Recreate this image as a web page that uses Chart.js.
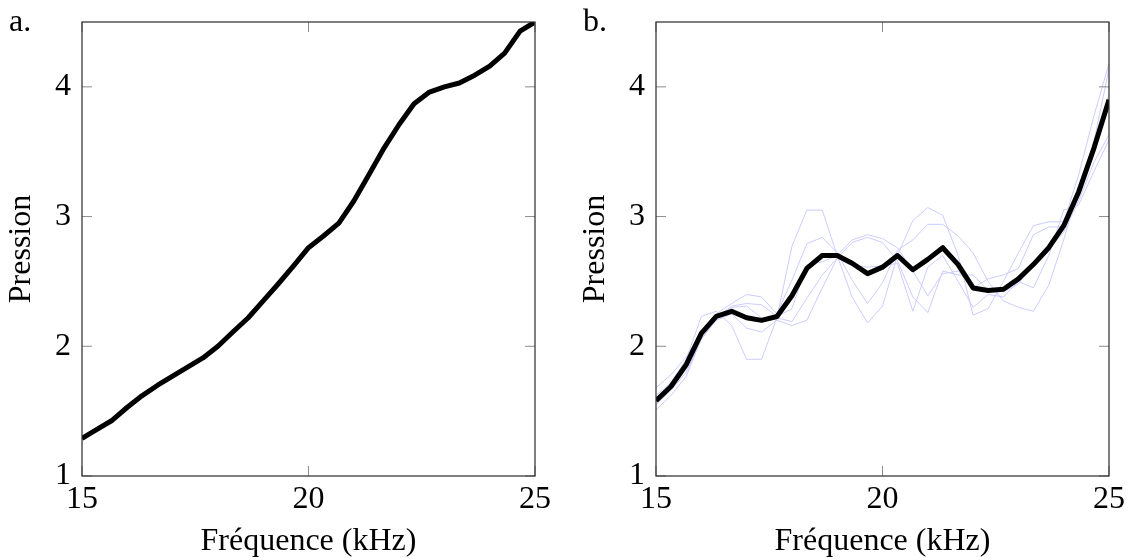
<!DOCTYPE html>
<html lang="fr">
<head>
<meta charset="utf-8">
<title>Pression en fonction de la fréquence</title>
<script src="https://cdn.jsdelivr.net/npm/chart.js@4.4.1/dist/chart.umd.min.js"></script>
<style>
    html, body { margin: 0; padding: 0; background: #fff; }
    #page { position: relative; width: 1128px; height: 560px; overflow: hidden; }
    #page canvas { position: absolute; top: 0; }
    #graphA { left: 0; }
    #graphB { left: 574px; }
</style>
</head>
<body>
<div id="page">
    <canvas id="graphA" width="554" height="560"></canvas>
    <canvas id="graphB" width="554" height="560"></canvas>
</div>
<script>
// fréquences (kHz), un point tous les 1/3 kHz
const freq = [15, 15.33, 15.67, 16, 16.33, 16.67, 17, 17.33, 17.67, 18, 18.33, 18.67, 19, 19.33, 19.67,
    20, 20.33, 20.67, 21, 21.33, 21.67, 22, 22.33, 22.67, 23, 23.33, 23.67, 24, 24.33, 24.67, 25];

// a. pression mesurée
const pressionA = [1.29, 1.36, 1.43, 1.53, 1.62, 1.70, 1.77, 1.84, 1.91, 2.00, 2.11, 2.22, 2.35, 2.48, 2.62,
    2.76, 2.85, 2.95, 3.12, 3.32, 3.53, 3.71, 3.87, 3.96, 4.00, 4.03, 4.09, 4.16, 4.26, 4.43, 4.50];

// b. moyenne des essais
const pressionMoy = [1.58, 1.69, 1.86, 2.10, 2.23, 2.27, 2.22, 2.20, 2.23, 2.39, 2.60, 2.70, 2.70, 2.64, 2.56,
    2.61, 2.70, 2.59, 2.67, 2.76, 2.63, 2.45, 2.43, 2.44, 2.52, 2.63, 2.76, 2.93, 3.19, 3.53, 3.90];

// b. essais individuels
const essai1 = [1.62, 1.72, 1.90, 2.23, 2.27, 2.16, 1.90, 1.90, 2.22, 2.77, 3.05, 3.05, 2.70, 2.38, 2.18,
    2.31, 2.70, 2.97, 3.07, 3.01, 2.70, 2.24, 2.29, 2.50, 2.72, 2.93, 2.96, 2.96, 3.32, 3.78, 4.18];
const essai2 = [1.68, 1.78, 1.92, 2.10, 2.25, 2.33, 2.40, 2.38, 2.25, 2.51, 2.79, 2.84, 2.72, 2.51, 2.33,
    2.49, 2.74, 2.82, 2.94, 2.94, 2.85, 2.72, 2.50, 2.35, 2.30, 2.27, 2.47, 2.82, 3.22, 3.58, 4.14];
const essai3 = [1.58, 1.69, 1.86, 2.08, 2.22, 2.31, 2.33, 2.32, 2.23, 2.29, 2.63, 2.65, 2.70, 2.82, 2.86,
    2.83, 2.76, 2.58, 2.39, 2.56, 2.58, 2.45, 2.52, 2.55, 2.60, 2.86, 2.92, 2.92, 3.20, 3.52, 3.95];
const essai4 = [1.55, 1.66, 1.80, 2.05, 2.21, 2.30, 2.31, 2.22, 2.22, 2.19, 2.37, 2.55, 2.68, 2.80, 2.84,
    2.80, 2.66, 2.38, 2.26, 2.58, 2.55, 2.55, 2.43, 2.42, 2.48, 2.65, 2.75, 2.88, 3.12, 3.42, 3.63];
const essai5 = [1.51, 1.62, 1.77, 2.06, 2.20, 2.25, 2.14, 2.11, 2.20, 2.16, 2.20, 2.45, 2.68, 2.62, 2.61,
    2.62, 2.64, 2.27, 2.61, 2.70, 2.50, 2.30, 2.40, 2.38, 2.50, 2.45, 2.70, 3.05, 3.09, 3.35, 3.59];

const xTicks = [15, 20, 25];
const yTicks = [1, 2, 3, 4];

Chart.defaults.font.family = "'Liberation Serif', 'DejaVu Serif', serif";
Chart.defaults.font.size = 32;
Chart.defaults.color = '#000';

// cadre complet, graduations vers l'intérieur, et lettre du panneau
const cadre = {
    id: 'cadre',
    afterDatasetsDraw(chart, args, opts) {
        const {ctx, chartArea: a, scales: {x, y}} = chart;
        const len = 10;
        ctx.save();
        ctx.strokeStyle = '#8c8c8c';
        ctx.lineWidth = 1;
        ctx.beginPath();
        xTicks.forEach(v => {
            const px = x.getPixelForValue(v);
            ctx.moveTo(px, a.bottom); ctx.lineTo(px, a.bottom - len);
            ctx.moveTo(px, a.top); ctx.lineTo(px, a.top + len);
        });
        yTicks.forEach(v => {
            const py = y.getPixelForValue(v);
            ctx.moveTo(a.left, py); ctx.lineTo(a.left + len, py);
            ctx.moveTo(a.right, py); ctx.lineTo(a.right - len, py);
        });
        ctx.stroke();
        ctx.strokeStyle = '#2a2a2a';
        ctx.lineWidth = 1.2;
        ctx.strokeRect(a.left, a.top, a.right - a.left, a.bottom - a.top);
        ctx.restore();
    },
    afterDraw(chart, args, opts) {
        const ctx = chart.ctx;
        ctx.save();
        ctx.font = "32px 'Liberation Serif', serif";
        ctx.fillStyle = '#000';
        ctx.textBaseline = 'alphabetic';
        ctx.fillText(opts.lettre, 9, 31);
        ctx.restore();
    }
};

function makeOptions(lettre) {
    return {
        responsive: false,
        animation: false,
        devicePixelRatio: 1,
        layout: { padding: { top: 22, right: 19, left: 0, bottom: 0 } },
        plugins: {
            legend: { display: false },
            tooltip: { enabled: false },
            cadre: { lettre: lettre }
        },
        elements: { point: { radius: 0 } },
        scales: {
            x: {
                type: 'linear',
                min: 15,
                max: 25,
                afterBuildTicks: s => { s.ticks = xTicks.map(v => ({ value: v })); },
                afterFit: s => {
                    s.height = 84;
                    s.paddingLeft = 0;
                    s.paddingRight = 0;
                },
                grid: { display: false, drawTicks: false },
                border: { display: false },
                ticks: { padding: 4, maxRotation: 0 },
                title: {
                    display: true,
                    text: 'Fréquence (kHz)',
                    font: { size: 32, lineHeight: 1.0 },
                    padding: { top: 0, bottom: 2 }
                }
            },
            y: {
                type: 'linear',
                min: 1,
                max: 4.5,
                afterBuildTicks: s => { s.ticks = yTicks.map(v => ({ value: v })); },
                afterFit: s => {
                    s.width = 82;
                    s.paddingTop = 0;
                    s.paddingBottom = 0;
                },
                grid: { display: false, drawTicks: false },
                border: { display: false },
                ticks: { padding: 11 },
                title: {
                    display: true,
                    text: 'Pression',
                    font: { size: 32, lineHeight: 1.0 },
                    padding: { top: 6, bottom: 0 }
                }
            }
        }
    };
}

function points(values) {
    return values.map((v, i) => ({ x: freq[i], y: v }));
}

function courbeNoire(values) {
    return {
        data: points(values),
        borderColor: '#000',
        borderWidth: 5,
        borderJoinStyle: 'round',
        tension: 0,
        order: 0
    };
}

function courbeEssai(values) {
    return {
        data: points(values),
        borderColor: 'rgb(204, 204, 255)',
        borderWidth: 1,
        tension: 0,
        order: 1
    };
}

new Chart(document.getElementById('graphA'), {
    type: 'line',
    data: { datasets: [courbeNoire(pressionA)] },
    options: makeOptions('a.'),
    plugins: [cadre]
});

new Chart(document.getElementById('graphB'), {
    type: 'line',
    data: {
        datasets: [
            courbeNoire(pressionMoy),
            courbeEssai(essai1),
            courbeEssai(essai2),
            courbeEssai(essai3),
            courbeEssai(essai4),
            courbeEssai(essai5)
        ]
    },
    options: makeOptions('b.'),
    plugins: [cadre]
});
</script>
</body>
</html>
